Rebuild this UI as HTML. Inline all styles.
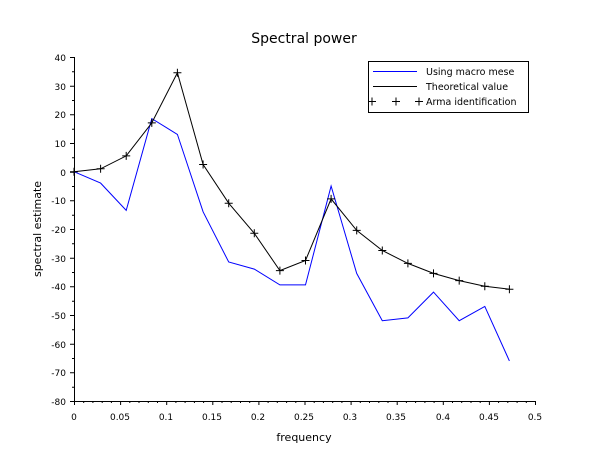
<!DOCTYPE html>
<html><head><style>body{margin:0;background:#fff}svg{display:block;font-family:"DejaVu Sans","Liberation Sans",sans-serif}</style></head><body>
<svg width="610" height="460" xmlns="http://www.w3.org/2000/svg">
<rect width="610" height="460" fill="#fff"/>
<text x="304" y="43" font-size="14" text-anchor="middle">Spectral power</text>
<g stroke="#000" stroke-width="1" fill="none">
<path d="M74.5 57V401.5H535"/>
<path d="M74.5 401v4M120.6 401v4M166.7 401v4M212.8 401v4M258.9 401v4M305 401v4M351.1 401v4M397.2 401v4M443.3 401v4M489.4 401v4M535.5 401v4"/>
<path d="M83.7 401v2M92.9 401v2M102.2 401v2M111.4 401v2M129.8 401v2M139 401v2M148.3 401v2M157.5 401v2M175.9 401v2M185.1 401v2M194.4 401v2M203.6 401v2M222 401v2M231.2 401v2M240.5 401v2M249.7 401v2M268.1 401v2M277.3 401v2M286.6 401v2M295.8 401v2M314.2 401v2M323.4 401v2M332.7 401v2M341.9 401v2M360.3 401v2M369.5 401v2M378.8 401v2M388 401v2M406.4 401v2M415.6 401v2M424.9 401v2M434.1 401v2M452.5 401v2M461.7 401v2M471 401v2M480.2 401v2M498.6 401v2M507.8 401v2M517.1 401v2M526.3 401v2"/>
<path d="M74 57.5h-4M74 86.2h-4M74 114.8h-4M74 143.5h-4M74 172.2h-4M74 200.8h-4M74 229.5h-4M74 258.2h-4M74 286.8h-4M74 315.5h-4M74 344.2h-4M74 372.8h-4M74 401.5h-4"/>
<path d="M74 71.8h-2M74 100.5h-2M74 129.2h-2M74 157.8h-2M74 186.5h-2M74 215.2h-2M74 243.8h-2M74 272.5h-2M74 301.2h-2M74 329.8h-2M74 358.5h-2M74 387.2h-2"/>
</g>
<g font-size="9" text-anchor="end">
<text x="66" y="61">40</text><text x="66" y="90">30</text><text x="66" y="118">20</text><text x="66" y="147">10</text><text x="66" y="176">0</text><text x="66" y="204">-10</text><text x="66" y="233">-20</text><text x="66" y="262">-30</text><text x="66" y="290">-40</text><text x="66" y="319">-50</text><text x="66" y="348">-60</text><text x="66" y="376">-70</text><text x="66" y="405">-80</text>
</g>
<g font-size="9" text-anchor="middle">
<text x="74" y="420">0</text><text x="120" y="420">0.05</text><text x="166" y="420">0.1</text><text x="212" y="420">0.15</text><text x="258" y="420">0.2</text><text x="304" y="420">0.25</text><text x="350" y="420">0.3</text><text x="396" y="420">0.35</text><text x="443" y="420">0.4</text><text x="489" y="420">0.45</text><text x="535" y="420">0.5</text>
</g>
<text x="304" y="441" font-size="11" text-anchor="middle">frequency</text>
<text transform="translate(41,229) rotate(-90)" font-size="11" text-anchor="middle">spectral estimate</text>
<polyline fill="none" stroke="#0000ff" points="74,171.7 100.6,183.1 126.2,210.4 151.8,118.6 177.4,134.4 203.1,211.8 228.7,262 254.3,269.1 279.9,284.9 305.5,284.9 331.1,186 356.7,273.4 382.3,320.7 407.9,317.9 433.5,292.1 459.2,320.7 484.8,306.4 509.4,360.9"/>
<polyline fill="none" stroke="#000" points="74,171.7 100.6,168.8 126.2,155.9 151.8,122.9 177.4,72.8 203.1,164.5 228.7,203.2 254.3,233.3 279.9,270.6 305.5,260.5 331.1,198.9 356.7,230.4 382.3,250.5 407.9,263.4 433.5,273.4 459.2,280.6 484.8,286.3 509.4,289.2"/>
<path fill="none" stroke="#000" d="M70 171.7h8M74 167.7v8M96.6 168.8h8M100.6 164.8v8M122.2 155.9h8M126.2 151.9v8M147.8 122.9h8M151.8 118.9v8M173.4 72.8h8M177.4 68.8v8M199.1 164.5h8M203.1 160.5v8M224.7 203.2h8M228.7 199.2v8M250.3 233.3h8M254.3 229.3v8M275.9 270.6h8M279.9 266.6v8M301.5 260.5h8M305.5 256.5v8M327.1 198.9h8M331.1 194.9v8M352.7 230.4h8M356.7 226.4v8M378.3 250.5h8M382.3 246.5v8M403.9 263.4h8M407.9 259.4v8M429.5 273.4h8M433.5 269.4v8M455.2 280.6h8M459.2 276.6v8M480.8 286.3h8M484.8 282.3v8M505.4 289.2h8M509.4 285.2v8"/>
<rect x="368.5" y="61.5" width="160" height="51" fill="#fff" stroke="#000"/>
<path d="M373 71.5h44" stroke="#0000ff"/>
<path d="M373 86.5h44" stroke="#000"/>
<path d="M368 101.5h8M372 97.5v8M392 101.5h8M396 97.5v8M415 101.5h8M419 97.5v8" stroke="#000"/>
<g font-size="9.5"><text x="426" y="75">Using macro mese</text><text x="426" y="90">Theoretical value</text><text x="426" y="105">Arma identification</text></g>
</svg>
</body></html>
